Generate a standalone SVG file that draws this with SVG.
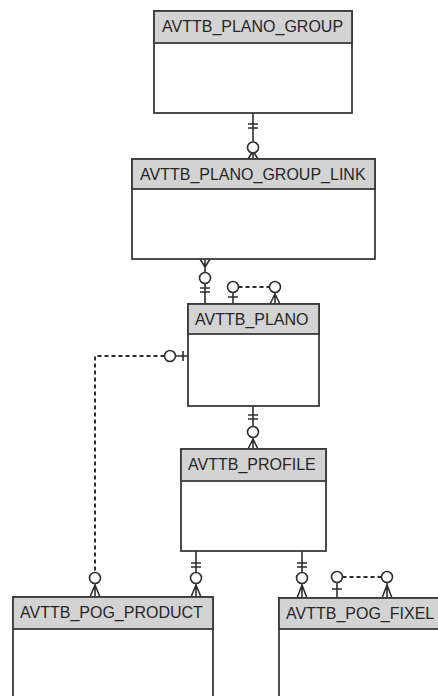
<svg xmlns="http://www.w3.org/2000/svg" width="438" height="696" viewBox="0 0 438 696">
<style>
.body{fill:#ffffff;stroke:#3a3a3a;stroke-width:1.8}
.head{fill:#d3d3d3;stroke:#3a3a3a;stroke-width:1.8}
.t{font-family:"Liberation Sans",Arial,sans-serif;font-size:16px;fill:#262626}
.ln{fill:none;stroke:#2e2e2e;stroke-width:1.6}
.ds{fill:none;stroke:#2e2e2e;stroke-width:2;stroke-dasharray:4 3}
.c{fill:#fff;stroke:#2e2e2e;stroke-width:1.6}
</style>
<rect width="438" height="696" fill="#ffffff"/>
<g id="connectors">
  <!-- PLANO_GROUP -> PLANO_GROUP_LINK -->
  <path class="ln" d="M253 113V142M248 124H258M248 128H258M253 153V159M253 151L248 159M253 151L258 159"/>
  <circle class="c" cx="253" cy="147.5" r="5.5"/>
  <!-- PLANO -> PLANO_GROUP_LINK -->
  <path class="ln" d="M205 259V272M205 284V304M200 288H210M200 292H210M205 267L200 259M205 267L210 259"/>
  <circle class="c" cx="205" cy="278" r="5.5"/>
  <!-- PLANO self relationship -->
  <path class="ln" d="M233 292V304M228 297H238M275 292V304M275 294L270 304M275 294L280 304"/>
  <path class="ds" d="M238.5 287H269.5"/>
  <circle class="c" cx="233" cy="287" r="5.5"/>
  <circle class="c" cx="275" cy="287" r="5.5"/>
  <!-- PLANO -> POG_PRODUCT (dashed) -->
  <path class="ln" d="M175.5 356H188M183 351V361M95 583V597M95 585L90 597M95 585L100 597"/>
  <path class="ds" d="M164.5 356H95V572.5"/>
  <circle class="c" cx="170" cy="356" r="5.5"/>
  <circle class="c" cx="95" cy="578" r="5.5"/>
  <!-- PLANO -> PROFILE -->
  <path class="ln" d="M253 406V426M248 415H258M248 419H258M253 437V449M253 439L248 449M253 439L258 449"/>
  <circle class="c" cx="253" cy="432" r="5.5"/>
  <!-- PROFILE -> POG_PRODUCT -->
  <path class="ln" d="M196 551V572M191 563H201M191 567H201M196 583V597M196 585L191 597M196 585L201 597"/>
  <circle class="c" cx="196" cy="578" r="5.5"/>
  <!-- PROFILE -> POG_FIXEL -->
  <path class="ln" d="M302 551V572M297 563H307M297 567H307M302 583V598M302 585L297 598M302 585L307 598"/>
  <circle class="c" cx="302" cy="578" r="5.5"/>
  <!-- POG_FIXEL self relationship -->
  <path class="ln" d="M337 582V598M332 589H342M387 582V598M387 585L382 598M387 585L392 598"/>
  <path class="ds" d="M342.5 577H381.5"/>
  <circle class="c" cx="337" cy="577" r="5.5"/>
  <circle class="c" cx="387" cy="577" r="5.5"/>
</g>
<g id="AVTTB_PLANO_GROUP">
  <rect class="body" x="154" y="11" width="198" height="102"/>
  <rect class="head" x="154" y="11" width="198" height="32"/>
  <text class="t" x="162" y="32">AVTTB_PLANO_GROUP</text>
</g>
<g id="AVTTB_PLANO_GROUP_LINK">
  <rect class="body" x="132" y="159" width="243" height="100"/>
  <rect class="head" x="132" y="159" width="243" height="30"/>
  <text class="t" x="140" y="180">AVTTB_PLANO_GROUP_LINK</text>
</g>
<g id="AVTTB_PLANO">
  <rect class="body" x="188" y="304" width="131" height="102"/>
  <rect class="head" x="188" y="304" width="131" height="30"/>
  <text class="t" x="195" y="325">AVTTB_PLANO</text>
</g>
<g id="AVTTB_PROFILE">
  <rect class="body" x="181" y="449" width="145" height="102"/>
  <rect class="head" x="181" y="449" width="145" height="32"/>
  <text class="t" x="188" y="470">AVTTB_PROFILE</text>
</g>
<g id="AVTTB_POG_PRODUCT">
  <rect class="body" x="13" y="597" width="200" height="120"/>
  <rect class="head" x="13" y="597" width="200" height="32"/>
  <text class="t" x="20" y="618">AVTTB_POG_PRODUCT</text>
</g>
<g id="AVTTB_POG_FIXEL">
  <rect class="body" x="279" y="598" width="180" height="120"/>
  <rect class="head" x="279" y="598" width="180" height="31"/>
  <text class="t" x="286" y="619">AVTTB_POG_FIXEL</text>
</g>
</svg>
